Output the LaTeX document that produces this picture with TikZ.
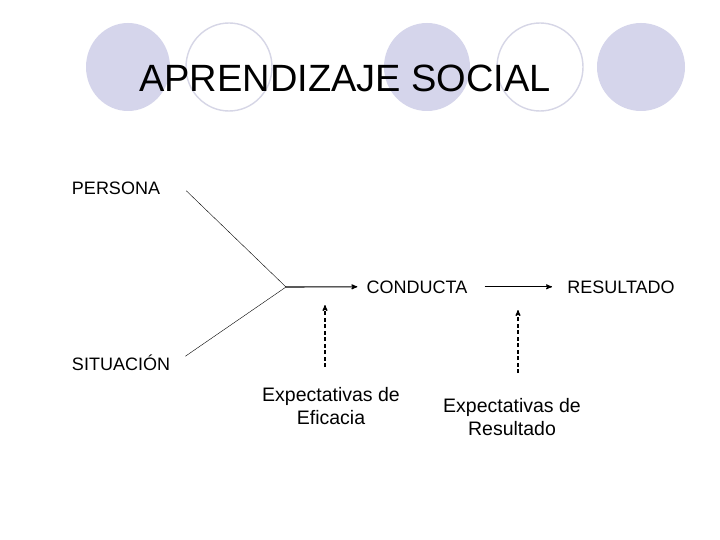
\documentclass[tikz,border=0pt]{standalone}
\usepackage{fontspec}
\setmainfont{Liberation Sans}
\usepackage{xcolor}
\usetikzlibrary{arrows}

\definecolor{lila}{RGB}{213,213,235}
\definecolor{lilaborde}{RGB}{214,214,230}

\begin{document}
\begin{tikzpicture}[x=1pt,y=-1pt,>=stealth',semithick]
  \tikzstyle{circulo}=[fill=lila,draw=none]
  \tikzstyle{anillo}=[draw=lilaborde,line width=1.4pt]
  \tikzstyle{texto}=[inner sep=0pt,font=\fontsize{18}{22}\selectfont]
  \tikzstyle{expect}=[inner sep=0pt,align=center,font=\fontsize{19.5}{23}\selectfont]
  \tikzstyle{linea}=[thin]
  \tikzstyle{flecha}=[->,line width=1.1pt]
  \tikzstyle{punteada}=[->,line width=1.1pt,dash pattern=on 4pt off 2.5pt]

  \useasboundingbox[fill=white] (0,0) rectangle (720,540);

  % circulos de la cabecera
  \fill[circulo] (128,67) ellipse (42 and 44);
  \fill[circulo] (427,67) ellipse (43 and 44);
  \fill[circulo] (641,67) ellipse (44 and 44);
  \draw[anillo] (229,67) ellipse (43 and 44);
  \draw[anillo] (540,67) ellipse (43 and 44);

  \node[inner sep=0pt,anchor=base,font=\fontsize{38}{44}\selectfont] (titulo) at (345,92) {APRENDIZAJE SOCIAL};

  \node[texto,anchor=base] 		(persona)	at (116,195)	{PERSONA};
  \node[texto,anchor=base] 		(situacion)	at (121,370)	{SITUACIÓN};
  \node[texto,anchor=base] 		(conducta)	at (417,293)	{CONDUCTA};
  \node[texto,anchor=base] 		(resultado)	at (621,293)	{RESULTADO};
  \node[expect] 	(eficacia)	at (331,406)	{Expectativas de\\Eficacia};
  \node[expect] 	(expres)	at (512,417)	{Expectativas de\\Resultado};

  \coordinate (junta) at (286,287);
  \coordinate (baseef) at (325,367);
  \coordinate (puntaef) at (325,305);
  \coordinate (basere) at (518,373);
  \coordinate (puntare) at (518,310);

  \draw[linea] ([shift={(26,2)}]persona.east) -- (junta);
  \draw[linea] ([shift={(15,-6)}]situacion.east) -- (junta);
  \draw[flecha] (junta) -- ([shift={(-9,0)}]conducta.west);
  \draw[flecha] ([shift={(17,0)}]conducta.east) -- ([shift={(-15,0)}]resultado.west);

  \draw[punteada] (baseef) -- (puntaef);
  \draw[punteada] (basere) -- (puntare);

\end{tikzpicture}
\end{document}
